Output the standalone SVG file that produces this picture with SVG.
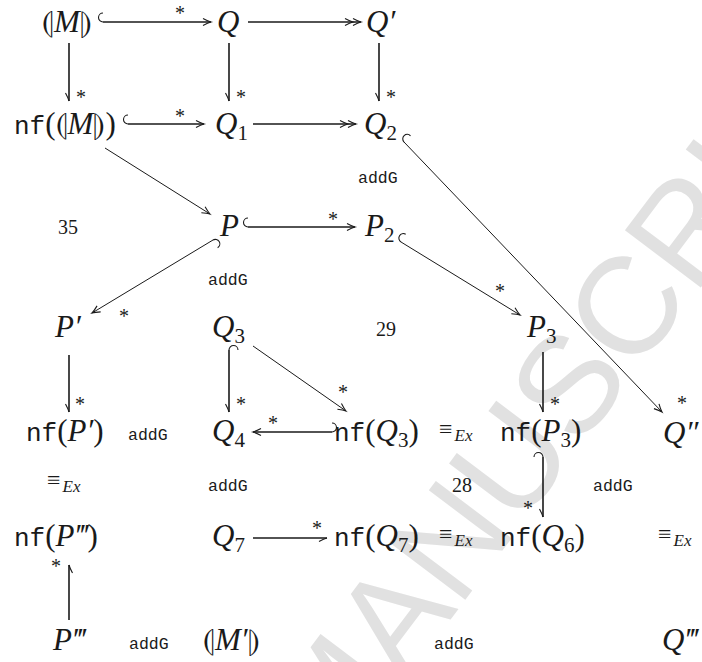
<svg xmlns="http://www.w3.org/2000/svg" width="702" height="662" viewBox="0 0 702 662">
<style>
text{fill:#1a1a1a}
.m{font-size:31px}
.i{font-style:italic}
.s{font-size:21px;font-style:normal}
.lbl{font-size:16.5px}
.num{font-size:20px}
.eq{font-size:24px}
.ex{font-size:17px;font-style:italic}
.ast{font-size:20px}
.thick{stroke:#1a1a1a;stroke-width:1.6;fill:none}
.thin{stroke:#1a1a1a;stroke-width:1;fill:none}
.mk{stroke:#1a1a1a;stroke-width:1.1;fill:none}
.wm{font-size:138px;fill:#e1e1e1}
</style>
<defs>
<marker id="head" markerUnits="userSpaceOnUse" orient="auto" overflow="visible" refX="0" refY="0" markerWidth="1" markerHeight="1">
<path class="mk" d="M-8,-3.5 Q-3,-0.8 0,0 Q-3,0.8 -8,3.5"/>
</marker>
<marker id="half" markerUnits="userSpaceOnUse" orient="auto" overflow="visible" refX="0" refY="0" markerWidth="1" markerHeight="1">
<path class="mk" d="M0,0 Q-3,0.8 -8,3.5"/>
</marker>
<marker id="dbl" markerUnits="userSpaceOnUse" orient="auto" overflow="visible" refX="0" refY="0" markerWidth="1" markerHeight="1">
<path class="mk" d="M-8,-3.5 Q-3,-0.8 0,0 Q-3,0.8 -8,3.5 M-16,-3.5 Q-11,-0.8 -8,0 Q-11,0.8 -16,3.5"/>
</marker>
<marker id="hook" markerUnits="userSpaceOnUse" orient="auto" overflow="visible" refX="0" refY="0" markerWidth="1" markerHeight="1">
<path class="mk" d="M0,0 A4.5,4.5 0 0 1 0,-9"/>
</marker>
<marker id="hookB" markerUnits="userSpaceOnUse" orient="auto" overflow="visible" refX="0" refY="0" markerWidth="1" markerHeight="1">
<path class="mk" d="M0,0 A4.5,4.5 0 0 0 0,9"/>
</marker>
</defs>
<rect width="702" height="662" fill="#ffffff"/>
<text class="wm" font-family="'Liberation Sans', Arial, sans-serif" transform="translate(334,774) rotate(-53)">MANUSCRIPT</text>

<g id="connectors">
<path class="thick" d="M103,22 H211" marker-start="url(#hook)" marker-end="url(#head)"/>
<path class="thick" d="M248,22 H361" marker-end="url(#dbl)"/>
<path class="thick" d="M69,43 V101" marker-end="url(#half)"/>
<path class="thick" d="M229,43 V101" marker-end="url(#half)"/>
<path class="thick" d="M379,43 V101" marker-end="url(#half)"/>
<path class="thick" d="M128,124 H204" marker-start="url(#hook)" marker-end="url(#head)"/>
<path class="thick" d="M253,124 H356" marker-end="url(#dbl)"/>
<path class="thin" d="M105,148 L210,214" marker-end="url(#head)"/>
<path class="thin" d="M404,142 L662,412" marker-start="url(#hook)" marker-end="url(#head)"/>
<path class="thick" d="M248,227 H355" marker-start="url(#hook)" marker-end="url(#head)"/>
<path class="thin" d="M213,240 L92,313" marker-start="url(#hook)" marker-end="url(#head)"/>
<path class="thin" d="M401,242 L520,315" marker-start="url(#hook)" marker-end="url(#head)"/>
<path class="thick" d="M69,355 V412" marker-end="url(#half)"/>
<path class="thick" d="M229,350 V412" marker-start="url(#hook)" marker-end="url(#half)"/>
<path class="thin" d="M253,346 L346,411" marker-end="url(#head)"/>
<path class="thick" d="M332,432 H253" marker-start="url(#hookB)" marker-end="url(#head)"/>
<path class="thick" d="M543,352 V412" marker-end="url(#half)"/>
<path class="thick" d="M543,457 V517" marker-start="url(#hookB)" marker-end="url(#half)"/>
<path class="thick" d="M253,538 H327" marker-end="url(#half)"/>
<path class="thick" d="M69,620 V565" marker-end="url(#half)"/>
<g class="ast" font-family="'Liberation Serif', 'Times New Roman', serif">
<text x="175" y="20">*</text>
<text x="76" y="104">*</text>
<text x="236" y="104">*</text>
<text x="386" y="104">*</text>
<text x="175" y="123">*</text>
<text x="328" y="226">*</text>
<text x="119" y="323">*</text>
<text x="495" y="298">*</text>
<text x="75" y="411">*</text>
<text x="236" y="411">*</text>
<text x="338" y="399">*</text>
<text x="268" y="430">*</text>
<text x="550" y="411">*</text>
<text x="523" y="515">*</text>
<text x="677" y="410">*</text>
<text x="312" y="535">*</text>
<text x="51" y="573">*</text>
</g>
</g>

<g font-family="'Liberation Serif', 'Times New Roman', serif">
<g id="n-M"><text class="m" x="42" y="32"><tspan font-family="'DejaVu Sans', sans-serif">⦇</tspan><tspan class="i">M</tspan><tspan font-family="'DejaVu Sans', sans-serif">⦈</tspan></text></g>
<g id="n-Q"><text class="m i" x="217" y="32">Q</text></g>
<g id="n-Qp"><text class="m i" x="366" y="32">Q′</text></g>

<g id="n-nfM"><text class="m" x="14" y="134"><tspan font-family="'Liberation Mono', 'Courier New', monospace" font-size="26">nf</tspan>(<tspan font-family="'DejaVu Sans', sans-serif">⦇</tspan><tspan class="i">M</tspan><tspan font-family="'DejaVu Sans', sans-serif">⦈</tspan>)</text></g>
<g id="n-Q1"><text class="m i" x="215" y="134">Q<tspan class="s" dy="6">1</tspan></text></g>
<g id="n-Q2"><text class="m i" x="364" y="134">Q<tspan class="s" dy="6">2</tspan></text></g>

<text class="num" x="58" y="234">35</text>
<g id="n-P"><text class="m i" x="220" y="236">P</text></g>
<g id="n-P2"><text class="m i" x="365" y="236">P<tspan class="s" dy="6">2</tspan></text></g>

<g id="n-Pp"><text class="m i" x="55" y="337">P′</text></g>
<g id="n-Q3"><text class="m i" x="212" y="337">Q<tspan class="s" dy="6">3</tspan></text></g>
<text class="num" x="376" y="336">29</text>
<g id="n-P3"><text class="m i" x="527" y="337">P<tspan class="s" dy="6">3</tspan></text></g>

<g id="n-nfPp"><text class="m" x="26" y="441"><tspan font-family="'Liberation Mono', 'Courier New', monospace" font-size="26">nf</tspan>(<tspan class="i">P′</tspan>)</text></g>
<g id="n-Q4"><text class="m i" x="212" y="441">Q<tspan class="s" dy="6">4</tspan></text></g>
<g id="n-nfQ3"><text class="m" x="334" y="441"><tspan font-family="'Liberation Mono', 'Courier New', monospace" font-size="26">nf</tspan>(<tspan class="i">Q</tspan><tspan class="s" dy="6">3</tspan><tspan dy="-6">)</tspan></text></g>
<text class="eq" x="439" y="437">≡<tspan class="ex" dx="2" dy="4">Ex</tspan></text>
<g id="n-nfP3"><text class="m" x="500" y="441"><tspan font-family="'Liberation Mono', 'Courier New', monospace" font-size="26">nf</tspan>(<tspan class="i">P</tspan><tspan class="s" dy="6">3</tspan><tspan dy="-6">)</tspan></text></g>
<g id="n-Qpp"><text class="m i" x="663" y="443">Q″</text></g>

<text class="eq" x="47" y="488">≡<tspan class="ex" dx="2" dy="4">Ex</tspan></text>
<text class="num" x="452" y="492">28</text>

<g id="n-nfPppp"><text class="m" x="14" y="546"><tspan font-family="'Liberation Mono', 'Courier New', monospace" font-size="26">nf</tspan>(<tspan class="i">P‴</tspan>)</text></g>
<g id="n-Q7"><text class="m i" x="212" y="546">Q<tspan class="s" dy="6">7</tspan></text></g>
<g id="n-nfQ7"><text class="m" x="334" y="546"><tspan font-family="'Liberation Mono', 'Courier New', monospace" font-size="26">nf</tspan>(<tspan class="i">Q</tspan><tspan class="s" dy="6">7</tspan><tspan dy="-6">)</tspan></text></g>
<text class="eq" x="439" y="542">≡<tspan class="ex" dx="2" dy="4">Ex</tspan></text>
<g id="n-nfQ6"><text class="m" x="500" y="546"><tspan font-family="'Liberation Mono', 'Courier New', monospace" font-size="26">nf</tspan>(<tspan class="i">Q</tspan><tspan class="s" dy="6">6</tspan><tspan dy="-6">)</tspan></text></g>
<text class="eq" x="658" y="542">≡<tspan class="ex" dx="2" dy="4">Ex</tspan></text>

<g id="n-Pppp"><text class="m i" x="53" y="650">P‴</text></g>
<g id="n-Mp"><text class="m" x="203" y="650"><tspan font-family="'DejaVu Sans', sans-serif">⦇</tspan><tspan class="i">M′</tspan><tspan font-family="'DejaVu Sans', sans-serif">⦈</tspan></text></g>
<g id="n-Qppp"><text class="m i" x="662" y="650">Q‴</text></g>
</g>

<g font-family="'Liberation Mono', 'Courier New', monospace">
<text class="lbl" x="358" y="183">addG</text>
<text class="lbl" x="208" y="285">addG</text>
<text class="lbl" x="128" y="440">addG</text>
<text class="lbl" x="208" y="491">addG</text>
<text class="lbl" x="593" y="491">addG</text>
<text class="lbl" x="129" y="649">addG</text>
<text class="lbl" x="434" y="649">addG</text>
</g>
</svg>
